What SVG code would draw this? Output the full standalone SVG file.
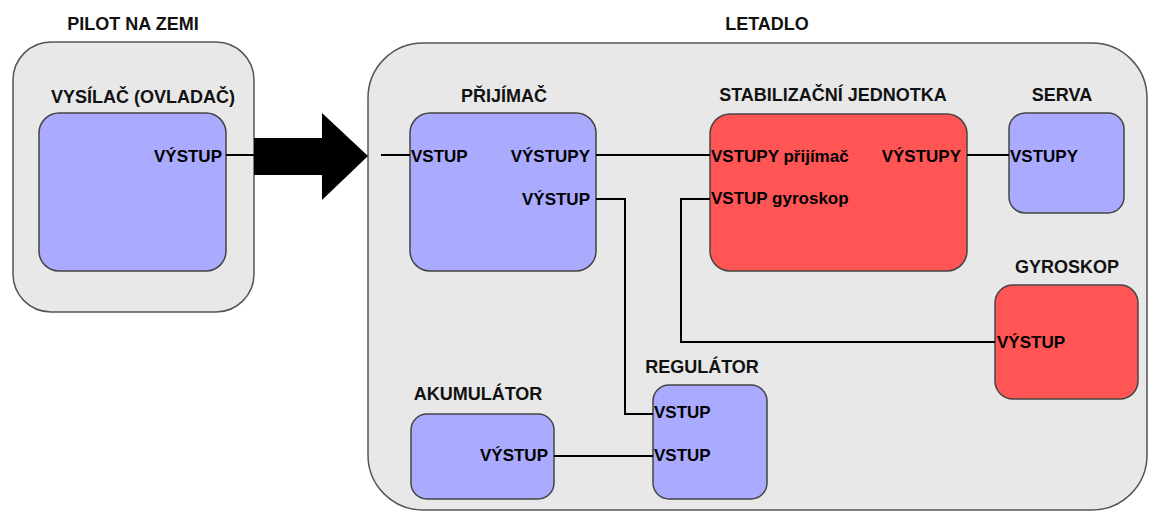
<svg xmlns="http://www.w3.org/2000/svg" width="1152" height="512" viewBox="0 0 1152 512">
  <defs>
    <style>
      .group { fill: #e8e8e8; stroke: #555; stroke-width: 1.5; }
      .blue { fill: #aaaaff; stroke: #444; stroke-width: 1.5; }
      .red { fill: #ff5555; stroke: #444; stroke-width: 1.5; }
      .title { font-family: "Liberation Sans", Arial, sans-serif; font-weight: bold; font-size: 18px; fill: #111; text-anchor: middle; }
      .port { font-family: "Liberation Sans", Arial, sans-serif; font-weight: bold; font-size: 17px; fill: #000; }
      .end { text-anchor: end; }
      .wire { fill: none; stroke: #000; stroke-width: 2; }
    </style>
  </defs>
  <rect width="1152" height="512" fill="#ffffff"/>

  <!-- ground side -->
  <g id="pilot-na-zemi">
    <rect class="group" x="13" y="42" width="241" height="270" rx="38"/>
    <text class="title" x="133" y="30">PILOT NA ZEMI</text>
  </g>

  <!-- aircraft side -->
  <g id="letadlo">
    <rect class="group" x="368" y="43" width="779" height="467" rx="55"/>
    <text class="title" x="767" y="30">LETADLO</text>
  </g>

  <g id="vysilac">
    <rect class="blue" x="39" y="113" width="187" height="158" rx="20"/>
    <text class="title" x="143" y="103">VYSÍLAČ (OVLADAČ)</text>
    <text class="port end" x="222" y="162">VÝSTUP</text>
  </g>

  <g id="prijimac">
    <rect class="blue" x="410" y="113" width="186" height="158" rx="20"/>
    <text class="title" x="504" y="102">PŘIJÍMAČ</text>
    <text class="port" x="411" y="162">VSTUP</text>
    <text class="port end" x="590" y="162">VÝSTUPY</text>
    <text class="port end" x="590" y="205">VÝSTUP</text>
  </g>

  <g id="stabilizacni-jednotka">
    <rect class="red" x="710" y="114" width="257" height="157" rx="20"/>
    <text class="title" x="833" y="101">STABILIZAČNÍ JEDNOTKA</text>
    <text class="port" x="711" y="162">VSTUPY přijímač</text>
    <text class="port end" x="961" y="162">VÝSTUPY</text>
    <text class="port" x="711" y="204">VSTUP gyroskop</text>
  </g>

  <g id="serva">
    <rect class="blue" x="1009" y="113" width="115" height="100" rx="16"/>
    <text class="title" x="1062" y="101">SERVA</text>
    <text class="port" x="1010" y="162">VSTUPY</text>
  </g>

  <g id="gyroskop">
    <rect class="red" x="995" y="285" width="143" height="114" rx="18"/>
    <text class="title" x="1067" y="273">GYROSKOP</text>
    <text class="port" x="997" y="348">VÝSTUP</text>
  </g>

  <g id="regulator">
    <rect class="blue" x="653" y="385" width="114" height="114" rx="16"/>
    <text class="title" x="702" y="373">REGULÁTOR</text>
    <text class="port" x="654" y="418">VSTUP</text>
    <text class="port" x="654" y="461">VSTUP</text>
  </g>

  <g id="akumulator">
    <rect class="blue" x="411" y="414" width="143" height="85" rx="16"/>
    <text class="title" x="478" y="400">AKUMULÁTOR</text>
    <text class="port end" x="548" y="461">VÝSTUP</text>
  </g>

  <!-- connectors -->
  <g id="connectors">
    <line class="wire" x1="226" y1="155" x2="254" y2="155"/>
    <polygon id="radio-link" points="254,138 322,138 322,113 368,156 322,200 322,175 254,175" fill="#000"/>
    <line class="wire" x1="381" y1="155" x2="410" y2="155"/>
    <line class="wire" x1="596" y1="155" x2="710" y2="155"/>
    <line class="wire" x1="967" y1="155" x2="1009" y2="155"/>
    <polyline class="wire" points="596,199 625,199 625,414 653,414"/>
    <polyline class="wire" points="710,199 681,199 681,342 995,342"/>
    <line class="wire" x1="554" y1="456" x2="653" y2="456"/>
  </g>
</svg>
